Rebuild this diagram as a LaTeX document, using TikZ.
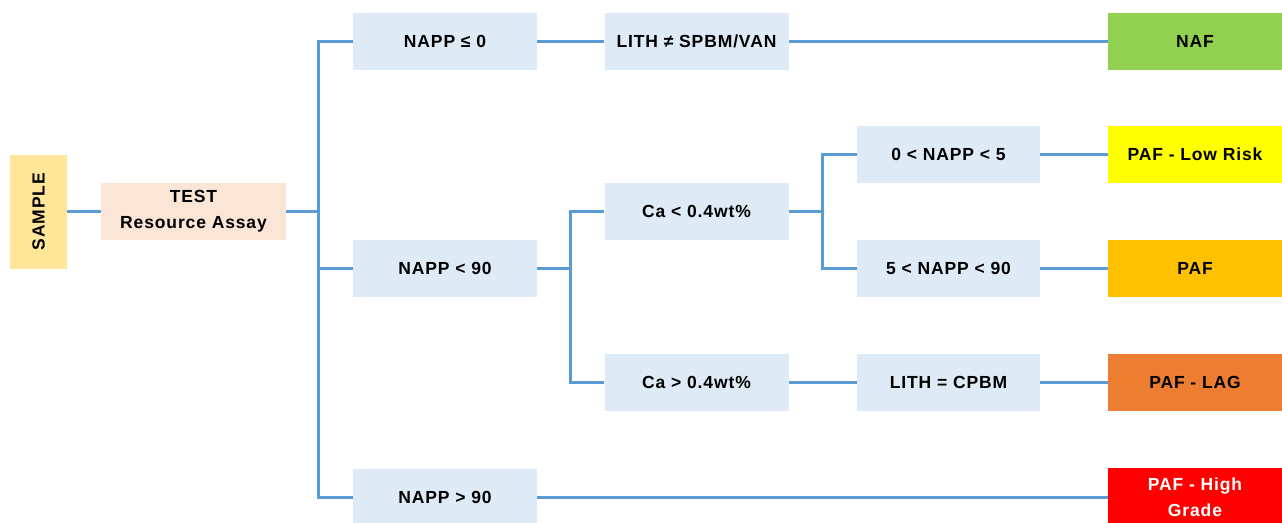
\documentclass[tikz,border=0pt]{standalone}
\usepackage{fontspec}
\setmainfont{Liberation Sans}[LetterSpace=5]
\definecolor{boxblue}{HTML}{DEEBF7}
\definecolor{linkblue}{HTML}{5B9BD5}
\definecolor{samp}{HTML}{FFE699}
\definecolor{testc}{HTML}{FBE5D6}
\definecolor{nafc}{HTML}{92D050}
\definecolor{lowc}{HTML}{FFFF00}
\definecolor{pafc}{HTML}{FFC000}
\definecolor{lagc}{HTML}{ED7D31}
\definecolor{highc}{HTML}{FF0000}
\tikzset{
  base/.style={inner sep=0pt, align=center, font=\fontsize{17.5}{26}\selectfont\bfseries, text=black},
  cond/.style={base, fill=boxblue, minimum width=184, minimum height=57},
  outc/.style={base, minimum width=174, minimum height=57},
  link/.style={draw=linkblue, line width=3pt},
}
\begin{document}
\begin{tikzpicture}[x=1pt,y=-1pt]
\useasboundingbox (0,0) rectangle (1282,522);
\clip (0,0) rectangle (1282,522);
\fill[white] (0,0) rectangle (1282,522);
% nodes
\node[base, fill=samp, minimum width=57, minimum height=114] (sample) at (38.5,211.5) {};
\node[base, rotate=90] (samplet) at (38.5,211.5) {SAMPLE};
\node[base, fill=testc, minimum width=185, minimum height=57] (test) at (193.5,211.5) {TEST\\Resource Assay};
\node[cond] (n0) at (445,41.5) {NAPP ≤ 0};
\node[cond] (lith1) at (696.5,41.5) {LITH ≠ SPBM/VAN};
\node[outc, fill=nafc] (naf) at (1195,41.5) {NAF};
\node[cond] (nlt) at (445,268.5) {NAPP < 90};
\node[cond] (ca1) at (696.5,211.5) {Ca < 0.4wt\%};
\node[cond] (ca2) at (696.5,382.5) {Ca > 0.4wt\%};
\node[cond, minimum width=183] (r1) at (948.5,154.5) {0 < NAPP < 5};
\node[cond, minimum width=183] (r2) at (948.5,268.5) {5 < NAPP < 90};
\node[cond, minimum width=183] (lith2) at (948.5,382.5) {LITH = CPBM};
\node[outc, fill=lowc] (low) at (1195,154.5) {PAF - Low Risk};
\node[outc, fill=pafc] (paf) at (1195,268.5) {PAF};
\node[outc, fill=lagc] (lag) at (1195,382.5) {PAF - LAG};
\node[cond] (ngt) at (445,497) {NAPP > 90};
\node[outc, fill=highc, text=white, minimum height=58] (high) at (1195,497) {PAF - High\\Grade};
% junctions
\coordinate (j1) at (318,211.5);
\coordinate (j2) at (570,268.5);
\coordinate (j3) at (822,211.5);
% connectors
\draw[link] (sample.east) -- (test.west);
\draw[link] (test.east) -- (j1);
\draw[link] (n0.west) -| (j1) |- (ngt.west);
\draw[link] (j1) |- (nlt.west);
\draw[link] (n0.east) -- (lith1.west);
\draw[link] (lith1.east) -- (naf.west);
\draw[link] (nlt.east) -- (j2);
\draw[link] (ca1.west) -| (j2) |- (ca2.west);
\draw[link] (ca1.east) -- (j3);
\draw[link] (r1.west) -| (j3) |- (r2.west);
\draw[link] (r1.east) -- (low.west);
\draw[link] (r2.east) -- (paf.west);
\draw[link] (ca2.east) -- (lith2.west);
\draw[link] (lith2.east) -- (lag.west);
\draw[link] (ngt.east) -- (high.west);
\end{tikzpicture}
\end{document}
